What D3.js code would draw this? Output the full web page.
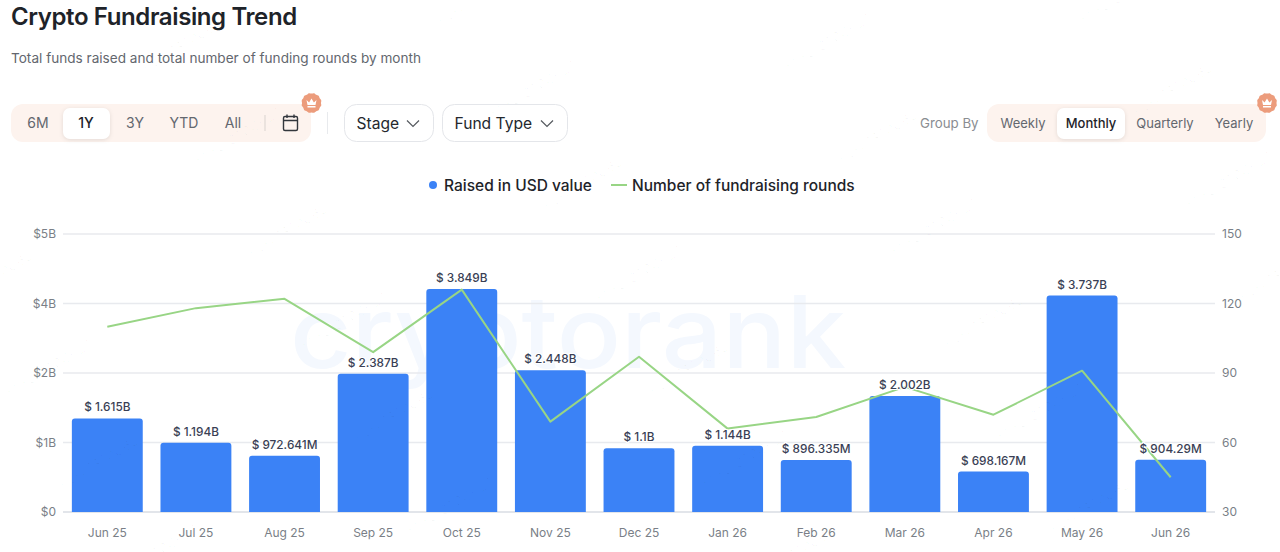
<!DOCTYPE html>
<html>
<head>
<meta charset="utf-8">
<title>Crypto Fundraising Trend</title>
<script src="https://cdn.jsdelivr.net/npm/d3@7"></script>
<style>
    html, body { margin: 0; padding: 0; background: #fff; }
    svg { display: block; font-family: Inter, "Noto Sans", sans-serif; }
    .axis path, .axis line { display: none; }
    .axis text { font-size: 12px; fill: #7a7f87; font-family: Inter, sans-serif; }
</style>
</head>
<body>
<div id="chart"></div>
<script>
const months = ['Jun 25', 'Jul 25', 'Aug 25', 'Sep 25', 'Oct 25', 'Nov 25', 'Dec 25', 'Jan 26', 'Feb 26', 'Mar 26', 'Apr 26', 'May 26', 'Jun 26'];
const raised = [1615e6, 1194e6, 972.641e6, 2387e6, 3849e6, 2448e6, 1100e6, 1144e6, 896.335e6, 2002e6, 698.167e6, 3737e6, 904.29e6];
const raisedLabels = ['$ 1.615B', '$ 1.194B', '$ 972.641M', '$ 2.387B', '$ 3.849B', '$ 2.448B', '$ 1.1B', '$ 1.144B', '$ 896.335M', '$ 2.002B', '$ 698.167M', '$ 3.737B', '$ 904.29M'];
const rounds = [110, 118, 122, 99, 126, 69, 97, 66, 71, 84, 72, 91, 45];

// the left axis is really split in 4 equal steps, the labels are rounded
const raisedTicks = [0, 1.2e9, 2.4e9, 3.6e9, 4.8e9];
const raisedTickLabels = ['$0', '$1B', '$2B', '$4B', '$5B'];
const roundsTicks = [30, 60, 90, 120, 150];

const rangeOptions = ['6M', '1Y', '3Y', 'YTD', 'All'];
const rangeCenters = [38, 86, 135, 184, 233];
const groupOptions = ['Weekly', 'Monthly', 'Quarterly', 'Yearly'];
const groupCenters = [1023, 1091, 1165, 1234];

const width = 1280;
const height = 552;
const plot = { left: 63, right: 1215, top: 234, bottom: 512 };

const BLUE = '#3b82f6';
const GREEN = '#98d585';
const INK = '#1e2329';

const svg = d3.select('#chart').append('svg')
    .attr('width', width)
    .attr('height', height)
    .attr('viewBox', `0 0 ${width} ${height}`);

// Header
svg.append('text')
    .attr('x', 11).attr('y', 25)
    .attr('font-size', 24).attr('font-weight', 600).attr('fill', INK)
    .attr('letter-spacing', -0.39)
    .text('Crypto Fundraising Trend');

svg.append('text')
    .attr('x', 11).attr('y', 63)
    .attr('font-size', 13.6).attr('fill', '#63676e')
    .text('Total funds raised and total number of funding rounds by month');

function drawTabs(x0, x1, options, centers, activeName, activeX0, activeX1, fontSize) {
    const g = svg.append('g');
    g.append('rect')
        .attr('x', x0).attr('y', 104)
        .attr('width', x1 - x0).attr('height', 38)
        .attr('rx', 12).attr('fill', '#fdf3ee');
    g.append('rect')
        .attr('x', activeX0).attr('y', 108)
        .attr('width', activeX1 - activeX0).attr('height', 31)
        .attr('rx', 7).attr('fill', '#fff')
        .style('filter', 'drop-shadow(0 1px 2px rgba(0,0,0,0.10))');
    g.selectAll('text')
        .data(options)
        .enter().append('text')
        .attr('x', (d, i) => centers[i])
        .attr('y', 128)
        .attr('text-anchor', 'middle')
        .attr('font-size', fontSize)
        .attr('font-weight', d => d === activeName ? 500 : 400)
        .attr('fill', d => d === activeName ? INK : '#63676e')
        .text(d => d);
}

function drawCrown(cx, cy) {
    const scallop = d3.lineRadial().curve(d3.curveBasisClosed)
        .angle((d, i) => i * Math.PI / 12)
        .radius((d, i) => i % 2 ? 10.8 : 9);
    const g = svg.append('g').attr('transform', `translate(${cx},${cy})`);
    g.append('path').attr('d', scallop(d3.range(24))).attr('fill', '#ec9c7c');
    g.append('path')
        .attr('d', 'M-5,-3 L-2.4,-0.6 L0,-4.4 L2.4,-0.6 L5,-3 L4,2 L-4,2 Z M-4,3 H4 V4.4 H-4 Z')
        .attr('fill', '#fff');
}

function drawDropdown(x0, x1, label, chevronX) {
    const g = svg.append('g');
    g.append('rect')
        .attr('x', x0 + 0.5).attr('y', 104.5)
        .attr('width', x1 - x0 - 1).attr('height', 37)
        .attr('rx', 12).attr('fill', '#fff').attr('stroke', '#e4e6ea');
    g.append('text')
        .attr('x', x0 + 12.5).attr('y', 129)
        .attr('font-size', 15.6).attr('fill', '#24282e')
        .text(label);
    g.append('path')
        .attr('d', `M${chevronX - 6},120.5 L${chevronX},126.5 L${chevronX + 6},120.5`)
        .attr('fill', 'none').attr('stroke', '#55595f').attr('stroke-width', 1.2);
}

drawTabs(11, 311, rangeOptions, rangeCenters, '1Y', 63, 110, 14);

svg.append('line')
    .attr('x1', 265).attr('x2', 265).attr('y1', 115).attr('y2', 131)
    .attr('stroke', '#d9d3cf');

const cal = svg.append('g').attr('fill', 'none').attr('stroke', '#33373d').attr('stroke-width', 1.4);
cal.append('rect').attr('x', 283.5).attr('y', 116.5).attr('width', 14).attr('height', 14).attr('rx', 1.5);
cal.append('path').attr('d', 'M283.5,120.5 H297.5 M287,114.5 V118 M294,114.5 V118');

drawCrown(311.5, 103);

svg.append('line')
    .attr('x1', 327.5).attr('x2', 327.5).attr('y1', 112).attr('y2', 134)
    .attr('stroke', '#e8eaed');

drawDropdown(344, 434, 'Stage', 413);
drawDropdown(442, 568, 'Fund Type', 547);

svg.append('text')
    .attr('x', 920).attr('y', 128)
    .attr('font-size', 13.3).attr('fill', '#8a8d92')
    .text('Group By');

drawTabs(987, 1266, groupOptions, groupCenters, 'Monthly', 1057, 1125, 13);
drawCrown(1267, 103);

// Legend
svg.append('circle').attr('cx', 433).attr('cy', 185).attr('r', 4).attr('fill', BLUE);
svg.append('text')
    .attr('x', 444).attr('y', 191)
    .attr('font-size', 15.5).attr('font-weight', 500).attr('fill', INK)
    .text('Raised in USD value');
svg.append('line')
    .attr('x1', 611).attr('x2', 627).attr('y1', 185).attr('y2', 185)
    .attr('stroke', GREEN).attr('stroke-width', 2);
svg.append('text')
    .attr('x', 632).attr('y', 191)
    .attr('font-size', 15.5).attr('font-weight', 500).attr('fill', INK)
    .text('Number of fundraising rounds');

// Scales
const x = d3.scaleBand()
    .domain(months)
    .range([plot.left, plot.right])
    .paddingInner(0.2)
    .paddingOuter(0.1);
const yRaised = d3.scaleLinear().domain([0, 4.8e9]).range([plot.bottom, plot.top]);
const yRounds = d3.scaleLinear().domain([30, 150]).range([plot.bottom, plot.top]);

// Big logo text behind the chart
svg.append('text')
    .attr('x', 290).attr('y', 368)
    .attr('font-size', 100).attr('font-weight', 500)
    .attr('textLength', 556).attr('lengthAdjust', 'spacingAndGlyphs')
    .attr('fill', '#f4f8fe')
    .text('cryptorank');

// Grid
svg.append('g')
    .selectAll('line')
    .data(raisedTicks)
    .enter().append('line')
    .attr('x1', plot.left).attr('x2', plot.right)
    .attr('y1', d => yRaised(d)).attr('y2', d => yRaised(d))
    .attr('stroke', d => d === 0 ? '#d8dce3' : '#e8eaee')
    .attr('stroke-width', 1.5);

// Axes
svg.append('g')
    .attr('class', 'axis')
    .attr('transform', `translate(${plot.left},0)`)
    .call(d3.axisLeft(yRaised)
        .tickValues(raisedTicks)
        .tickFormat((d, i) => raisedTickLabels[i])
        .tickSize(0).tickPadding(7));

svg.append('g')
    .attr('class', 'axis')
    .attr('transform', `translate(${plot.right},0)`)
    .call(d3.axisRight(yRounds)
        .tickValues(roundsTicks)
        .tickSize(0).tickPadding(7));

svg.append('g')
    .attr('class', 'axis')
    .attr('transform', `translate(0,${plot.bottom})`)
    .call(d3.axisBottom(x).tickSize(0).tickPadding(16));

// Bars, only the top corners are rounded
function barPath(month, value) {
    const r = 3;
    const x0 = x(month);
    const x1 = x0 + x.bandwidth();
    const top = yRaised(value);
    const p = d3.path();
    p.moveTo(x0, plot.bottom);
    p.lineTo(x0, top + r);
    p.quadraticCurveTo(x0, top, x0 + r, top);
    p.lineTo(x1 - r, top);
    p.quadraticCurveTo(x1, top, x1, top + r);
    p.lineTo(x1, plot.bottom);
    p.closePath();
    return p.toString();
}

svg.append('g')
    .selectAll('path')
    .data(months)
    .enter().append('path')
    .attr('d', (d, i) => barPath(d, raised[i]))
    .attr('fill', BLUE);

// Rounds line
const line = d3.line()
    .x((d, i) => x(months[i]) + x.bandwidth() / 2)
    .y(d => yRounds(d));

svg.append('path')
    .datum(rounds)
    .attr('d', line)
    .attr('fill', 'none')
    .attr('stroke', GREEN)
    .attr('stroke-width', 2)
    .attr('stroke-linejoin', 'round');

// Value labels sit on top of the line with a small white halo
svg.append('g')
    .selectAll('text')
    .data(months)
    .enter().append('text')
    .attr('x', d => x(d) + x.bandwidth() / 2)
    .attr('y', (d, i) => yRaised(raised[i]) - 7)
    .attr('text-anchor', 'middle')
    .attr('font-size', 11.8)
    .attr('font-weight', 500)
    .attr('fill', '#3a3f55')
    .attr('stroke', '#fff')
    .attr('stroke-width', 2)
    .attr('paint-order', 'stroke')
    .text((d, i) => raisedLabels[i]);

// User id watermark tiled over the whole page
const tiles = d3.cross(d3.range(-4, 6), d3.range(-4, 5)).map(([i, j]) => ({
    x: 600 + i * 295 + j * 53,
    y: 303 - i * 47 + j * 92.5
})).filter(t => t.x > -100 && t.x < width && t.y > 0 && t.y < height + 60);

svg.append('g')
    .selectAll('text')
    .data(tiles)
    .enter().append('text')
    .attr('transform', t => `translate(${t.x},${t.y}) rotate(-31)`)
    .attr('font-size', 13.5)
    .attr('fill', 'rgba(0,0,0,0.028)')
    .text('FVFJ13T0O6L7');
</script>
</body>
</html>
